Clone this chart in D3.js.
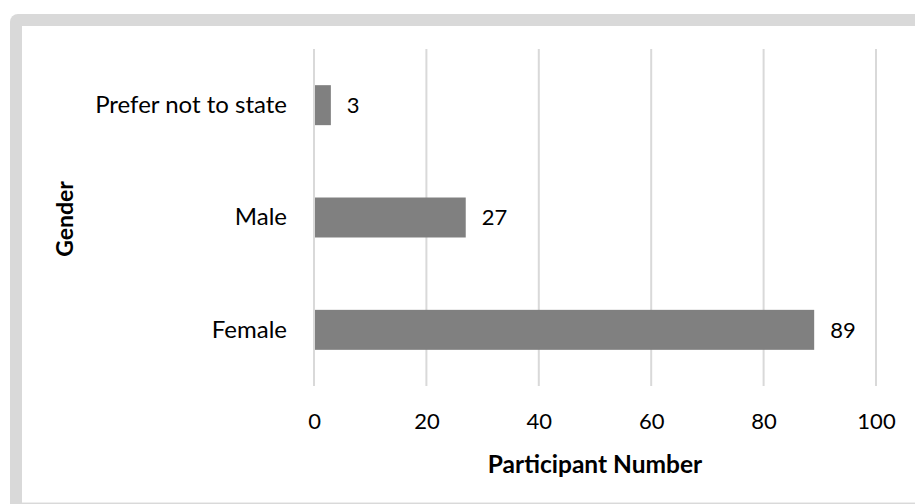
<!DOCTYPE html>
<html><head><meta charset="utf-8">
<script src="https://cdn.jsdelivr.net/npm/d3@7"></script>
<style>body{margin:0;background:#fff}svg{display:block}</style>
</head><body>
<script>
const categories = ["Prefer not to state", "Male", "Female"];
const values = [3, 27, 89];
const xTicks = [0, 20, 40, 60, 80, 100];
const xTitle = "Participant Number";
const yTitle = "Gender";

const W = 915, H = 504;
const svg = d3.select("body").append("svg").attr("width", W).attr("height", H);
svg.append("rect").attr("x",10).attr("y",14).attr("width",W).attr("height",H).attr("rx",8).attr("fill","#d9d9d9");
svg.append("rect").attr("x",22).attr("y",26).attr("width",W).attr("height",476).attr("fill","#fff");
svg.append("line").attr("x1",22).attr("x2",W).attr("y1",502.5).attr("y2",502.5).attr("stroke","#eeeeee").attr("stroke-width",1);

const font = "Lato, 'Open Sans', sans-serif";
const x = d3.scaleLinear().domain([0,100]).range([314,876]);
const y = d3.scaleBand().domain(categories).range([49,386]).paddingInner(0.644).paddingOuter(0.322);

const g = svg.append("g");
g.selectAll("line.grid").data(xTicks).join("line")
  .attr("x1",d=>x(d)).attr("x2",d=>x(d)).attr("y1",49).attr("y2",386)
  .attr("stroke","#d9d9d9").attr("stroke-width",2);

g.selectAll("rect.bar").data(values).join("rect")
  .attr("x",x(0)+1).attr("y",(d,i)=>y(categories[i]))
  .attr("width",d=>x(d)-x(0)-1).attr("height",y.bandwidth()).attr("fill","#808080");

g.selectAll("text.val").data(values).join("text")
  .attr("x",d=>x(d)+16).attr("y",(d,i)=>y(categories[i])+y.bandwidth()/2)
  .attr("dy","0.36em").attr("font-family",font).attr("font-size",22).attr("fill","#000")
  .text(d=>d);

const yAxis = d3.axisLeft(y).tickSize(0).tickPadding(0);
const ya = svg.append("g").attr("transform","translate(287,0)").call(yAxis);
ya.select(".domain").remove();
ya.selectAll("text").attr("font-family",font).attr("font-size",24).attr("fill","#000").attr("dy","0.32em");

const xAxis = d3.axisBottom(x).tickValues(xTicks).tickSize(0).tickPadding(0);
const xa = svg.append("g").attr("transform","translate(0,413)").call(xAxis);
xa.select(".domain").remove();
xa.selectAll("text").attr("font-family",font).attr("font-size",22).attr("fill","#000").attr("dy","0.71em");

svg.append("text").attr("x",595).attr("y",473).attr("text-anchor","middle")
  .attr("font-family",font).attr("font-size",24.5).attr("font-weight","bold").text(xTitle);
svg.append("text").attr("transform","translate(73,219) rotate(-90)").attr("text-anchor","middle")
  .attr("font-family",font).attr("font-size",23).attr("font-weight","bold").text(yTitle);
</script>
</body></html>
